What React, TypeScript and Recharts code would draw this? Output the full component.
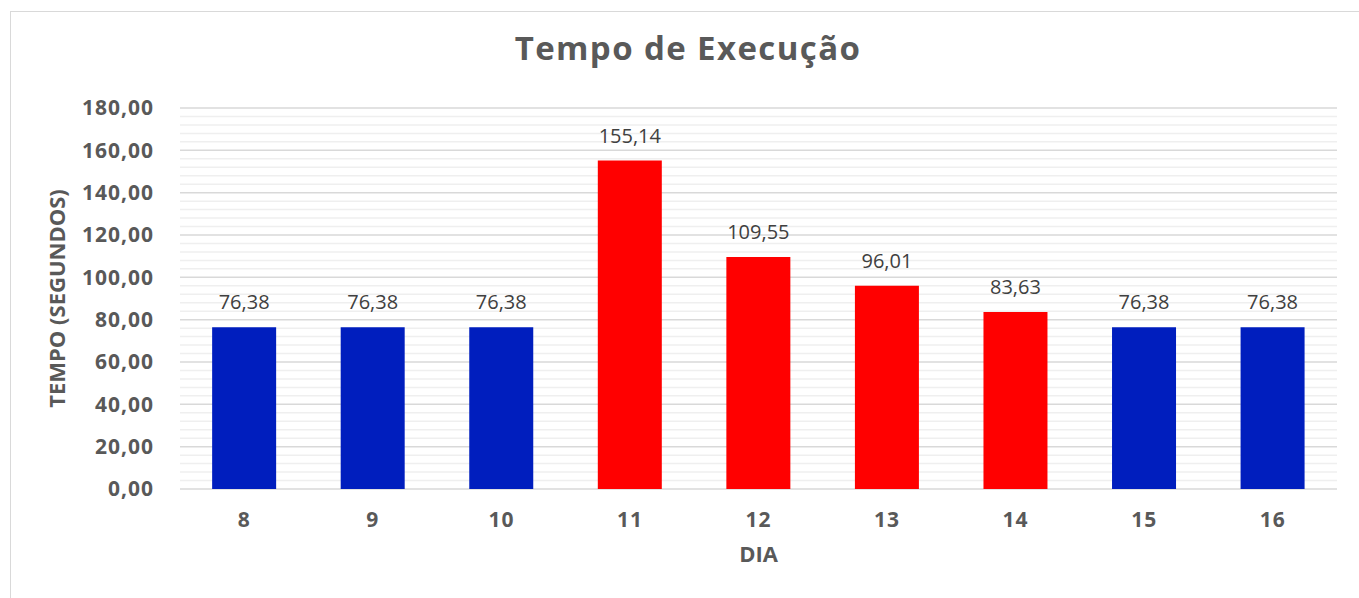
import React from "react";
import { BarChart, Bar, XAxis, YAxis, CartesianGrid, Cell, LabelList } from "recharts";

const days = ["8", "9", "10", "11", "12", "13", "14", "15", "16"];
const times = [76.38, 76.38, 76.38, 155.14, 109.55, 96.01, 83.63, 76.38, 76.38];
const highlighted = [false, false, false, true, true, true, true, false, false];
const yTicks = [0, 20, 40, 60, 80, 100, 120, 140, 160, 180];
const minorTicks = [
  4, 8, 12, 16, 24, 28, 32, 36, 44, 48, 52, 56, 64, 68, 72, 76, 84, 88, 92, 96,
  104, 108, 112, 116, 124, 128, 132, 136, 144, 148, 152, 156, 164, 168, 172, 176,
];

const data = days.map((d, i) => ({ dia: d, tempo: times[i], hot: highlighted[i] }));

const FONT = "'Open Sans', sans-serif";
const fmt = (v: number) => v.toFixed(2).replace(".", ",");

const minorGen = (props: any) => {
  const s = props?.yAxis?.scale;
  if (typeof s === "function") return minorTicks.map((v) => s(v));
  if (s && typeof s.map === "function") return minorTicks.map((v) => s.map(v));
  return [];
};

export default function App() {
  return (
    <div style={{ position: "absolute", left: 0, top: 0, width: 1359, height: 598, background: "#fff", overflow: "hidden" }}>
      <div
        style={{
          position: "absolute",
          left: 10,
          top: 11,
          width: 1360,
          height: 600,
          border: "1.5px solid #d9d9d9",
          boxSizing: "border-box",
        }}
      />
      <div
        style={{
          position: "absolute",
          left: 10,
          width: 1356,
          top: 25,
          textAlign: "center",
          fontFamily: FONT,
          fontWeight: 700,
          fontSize: 33,
          letterSpacing: 1.4,
          color: "#595959",
          lineHeight: "46px",
        }}
      >
        Tempo de Execução
      </div>
      <div style={{ position: "absolute", left: 0, top: 0 }}>
        <BarChart
          width={1359}
          height={598}
          data={data}
          margin={{ top: 108, right: 22, bottom: 29, left: 0 }}
          barCategoryGap="25%"
        >
          <CartesianGrid
            vertical={false}
            horizontalCoordinatesGenerator={minorGen}
            stroke="#efefef"
            strokeWidth={1.5}
          />
          <CartesianGrid vertical={false} stroke="#d9d9d9" strokeWidth={1.5} />
          <XAxis
            dataKey="dia"
            axisLine={false}
            tickLine={false}
            tickSize={0}
            tickMargin={23}
            height={80}
            tick={{ fill: "#595959", fontFamily: FONT, fontWeight: 700, fontSize: 21, letterSpacing: 1 }}
            label={{
              value: "DIA",
              position: "insideBottom",
              offset: 7,
              fill: "#595959",
              fontFamily: FONT,
              fontWeight: 700,
              fontSize: 22,
            }}
          />
          <YAxis
            domain={[0, 180]}
            ticks={yTicks}
            width={180}
            axisLine={false}
            tickLine={false}
            tickSize={0}
            tickMargin={26}
            tickFormatter={fmt}
            tick={{ fill: "#595959", fontFamily: FONT, fontWeight: 700, fontSize: 21, letterSpacing: 1 }}
            label={{
              value: "TEMPO (SEGUNDOS)",
              angle: -90,
              position: "insideLeft",
              offset: 57,
              style: { textAnchor: "middle" },
              fill: "#595959",
              fontFamily: FONT,
              fontWeight: 700,
              fontSize: 22,
            }}
          />
          <Bar dataKey="tempo" isAnimationActive={false}>
            {data.map((d, i) => (
              <Cell key={i} fill={d.hot ? "#ff0000" : "#001ebe"} />
            ))}
            <LabelList
              dataKey="tempo"
              position="top"
              offset={18}
              formatter={(v: any) => fmt(Number(v))}
              style={{ fill: "#404040", fontFamily: FONT, fontSize: 20 }}
            />
          </Bar>
        </BarChart>
      </div>
    </div>
  );
}
